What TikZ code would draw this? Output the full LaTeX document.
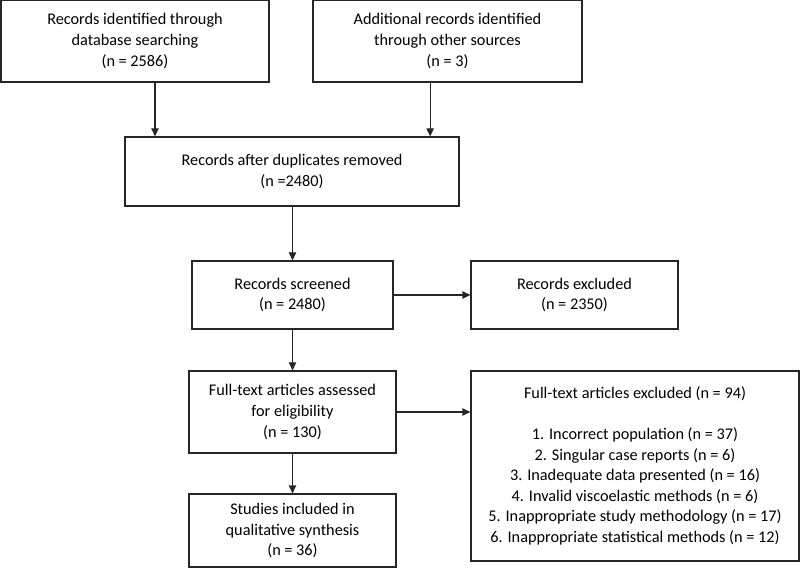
\documentclass[tikz,border=0pt]{standalone}
\usepackage{fontspec}
\setmainfont{Carlito}
\usepackage{tikz}
\usetikzlibrary{arrows.meta}

\tikzset{
    flowbox/.style={shape=rectangle, draw=black!85, line width=0.9pt, align=center,
        inner sep=0pt, font=\fontsize{12.2}{15.4}\selectfont},
}

\begin{document}
\begin{tikzpicture}
        [x=0.75pt, y=-0.75pt, ->, >={Triangle[length=6pt,width=5.5pt]}, line width=0.9pt, draw=black!85]
        \useasboundingbox (0,0) rectangle (800,577);
        \node[flowbox, minimum width=201pt, minimum height=61.5pt] (ident) at (135, 41)
            {Records identified through\\database searching\\(n = 2586)};
        \node[flowbox, minimum width=201.75pt, minimum height=61.5pt] (other) at (447.5, 41)
            {Additional records identified\\through other sources\\(n = 3)};
        \node[flowbox, minimum width=250.5pt, minimum height=51.75pt] (dup) at (292, 171.5)
            {Records after duplicates removed\\(n =2480)};
        \node[flowbox, minimum width=150.75pt, minimum height=51pt] (screen) at (292.5, 295)
            {Records screened\\(n = 2480)};
        \node[flowbox, minimum width=155.25pt, minimum height=51pt] (excl) at (574.5, 295)
            {Records excluded\\(n = 2350)};
        \node[flowbox, minimum width=155.25pt, minimum height=61.5pt] (full) at (292.5, 412)
            {Full-text articles assessed\\for eligibility\\(n = 130)};
        \node[flowbox, minimum width=246pt, minimum height=142.5pt] (fullexcl) at (635, 466)
            {Full-text articles excluded (n = 94)\\[15.4pt]
             1. Incorrect population (n = 37)\\
             2. Singular case reports (n = 6)\\
             3. Inadequate data presented (n = 16)\\
             4. Invalid viscoelastic methods (n = 6)\\
             5. Inappropriate study methodology (n = 17)\\
             6. Inappropriate statistical methods (n = 12)};
        \node[flowbox, minimum width=155.25pt, minimum height=54.75pt] (incl) at (292.5, 530.5)
            {Studies included in\\qualitative synthesis\\(n = 36)};

        \draw ([xshift=15pt]ident.south) -- ([xshift=15pt]ident.south |- dup.north);
        \draw ([xshift=-13pt]other.south) -- ([xshift=-13pt]other.south |- dup.north);
        \draw (dup.south -| screen.north) -- (screen.north);
        \draw (screen) -- (excl);
        \draw (screen) -- (full);
        \draw (full.east) -- (full.east -| fullexcl.west);
        \draw (full) -- (incl);
    \end{tikzpicture}
\end{document}
